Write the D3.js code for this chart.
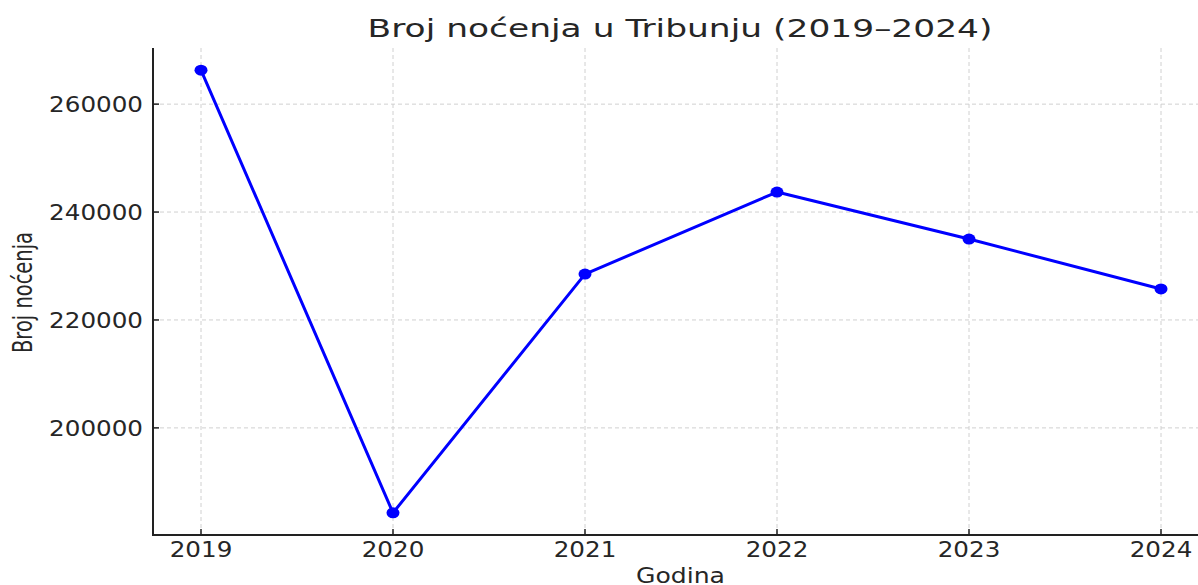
<!DOCTYPE html>
<html>
<head>
<meta charset="utf-8">
<script src="https://cdn.jsdelivr.net/npm/d3@7"></script>
<style>
  body { margin: 0; background: #fff; overflow: hidden; }
  svg { display: block; font-family: "DejaVu Sans", sans-serif; }
</style>
</head>
<body>
<svg id="chart"></svg>
<script>
// podaci
const years = [2019, 2020, 2021, 2022, 2023, 2024];
const nights = [266300, 184250, 228500, 243700, 235000, 225750];
const yTicks = [200000, 220000, 240000, 260000];
const titleText = 'Broj noćenja u Tribunju (2019–2024)';
const xLabel = 'Godina';
const yLabel = 'Broj noćenja';

const W = 1198, H = 585;
const margin = {left: 153, top: 48, bottomY: 535, rightX: 1209};

const svg = d3.select('#chart').attr('width', W).attr('height', H);

// matplotlib-style 5% padding
const xpad = (d3.max(years) - d3.min(years)) * 0.05;
const xscale = d3.scaleLinear()
    .domain([d3.min(years) - xpad, d3.max(years) + xpad])
    .range([margin.left, margin.rightX]);

const ypad = (d3.max(nights) - d3.min(nights)) * 0.05;
const yscale = d3.scaleLinear()
    .domain([d3.min(nights) - ypad, d3.max(nights) + ypad])
    .range([margin.bottomY, margin.top]);

const textColor = '#262626';

// grid
const grid = svg.append('g');
grid.selectAll('line.vx').data(years).enter().append('line')
    .attr('x1', d => xscale(d)).attr('x2', d => xscale(d))
    .attr('y1', margin.top).attr('y2', margin.bottomY)
    .attr('stroke', '#d0d0d0').attr('stroke-width', 1).attr('stroke-dasharray', '4,3');
grid.selectAll('line.hy').data(yTicks).enter().append('line')
    .attr('x1', margin.left).attr('x2', margin.rightX)
    .attr('y1', d => yscale(d)).attr('y2', d => yscale(d))
    .attr('stroke', '#d0d0d0').attr('stroke-width', 1).attr('stroke-dasharray', '4,3');

// line + markers
const line = d3.line()
    .x((d, i) => xscale(years[i]))
    .y(d => yscale(d));

svg.append('path')
    .datum(nights)
    .attr('d', line)
    .attr('fill', 'none')
    .attr('stroke', '#0000ff')
    .attr('stroke-width', 3)
    .attr('stroke-linejoin', 'round');

svg.selectAll('ellipse.pt').data(nights).enter().append('ellipse')
    .attr('cx', (d, i) => xscale(years[i]))
    .attr('cy', d => yscale(d))
    .attr('rx', 6.5).attr('ry', 5.5)
    .attr('fill', '#0000ff');

// spines
svg.append('line')
    .attr('x1', margin.left).attr('x2', margin.left)
    .attr('y1', margin.top).attr('y2', margin.bottomY + 1)
    .attr('stroke', '#222').attr('stroke-width', 2);
svg.append('line')
    .attr('x1', margin.left - 1).attr('x2', margin.rightX)
    .attr('y1', margin.bottomY).attr('y2', margin.bottomY)
    .attr('stroke', '#222').attr('stroke-width', 2);

// ticks (inward)
svg.selectAll('line.xt').data(years).enter().append('line')
    .attr('x1', d => xscale(d)).attr('x2', d => xscale(d))
    .attr('y1', margin.bottomY).attr('y2', margin.bottomY - 6)
    .attr('stroke', '#222').attr('stroke-width', 1.5);
svg.selectAll('line.yt').data(yTicks).enter().append('line')
    .attr('x1', margin.left).attr('x2', margin.left + 6)
    .attr('y1', d => yscale(d)).attr('y2', d => yscale(d))
    .attr('stroke', '#222').attr('stroke-width', 1.5);

// tick labels (picture is stretched horizontally)
const tickSX = 1.15;
svg.selectAll('text.xl').data(years).enter().append('text')
    .attr('transform', d => `translate(${xscale(d)}, 557) scale(${tickSX},1)`)
    .attr('text-anchor', 'middle')
    .style('font-size', '21.4px')
    .attr('fill', textColor)
    .text(d => d);
svg.selectAll('text.yl').data(yTicks).enter().append('text')
    .attr('transform', d => `translate(143, ${yscale(d) + 7.8}) scale(${tickSX},1)`)
    .attr('text-anchor', 'end')
    .style('font-size', '21.4px')
    .attr('fill', textColor)
    .text(d => d);

// helper: stretch horizontal text to target width
function stretched(cx, baseline, size, targetW, txt) {
    const t = svg.append('text')
        .attr('text-anchor', 'middle')
        .style('font-size', size + 'px')
        .attr('fill', textColor)
        .text(txt);
    const w = t.node().getComputedTextLength();
    t.attr('transform', `translate(${cx}, ${baseline}) scale(${targetW / w},1)`);
    return t;
}

stretched(680, 36.5, 25.3, 625, titleText);
stretched(680.5, 582.5, 21.4, 89, xLabel);

// y label: rotated, condensed look
const yl = svg.append('text')
    .attr('text-anchor', 'middle')
    .style('font-size', '19.4px')
    .attr('fill', textColor)
    .text(yLabel);
const yw = yl.node().getComputedTextLength();
const ysx = 27.4 / 19.4;
yl.attr('transform', `translate(31.5, ${292.5}) scale(${ysx},1) rotate(-90) scale(${121 / yw},1)`);
</script>
</body>
</html>
